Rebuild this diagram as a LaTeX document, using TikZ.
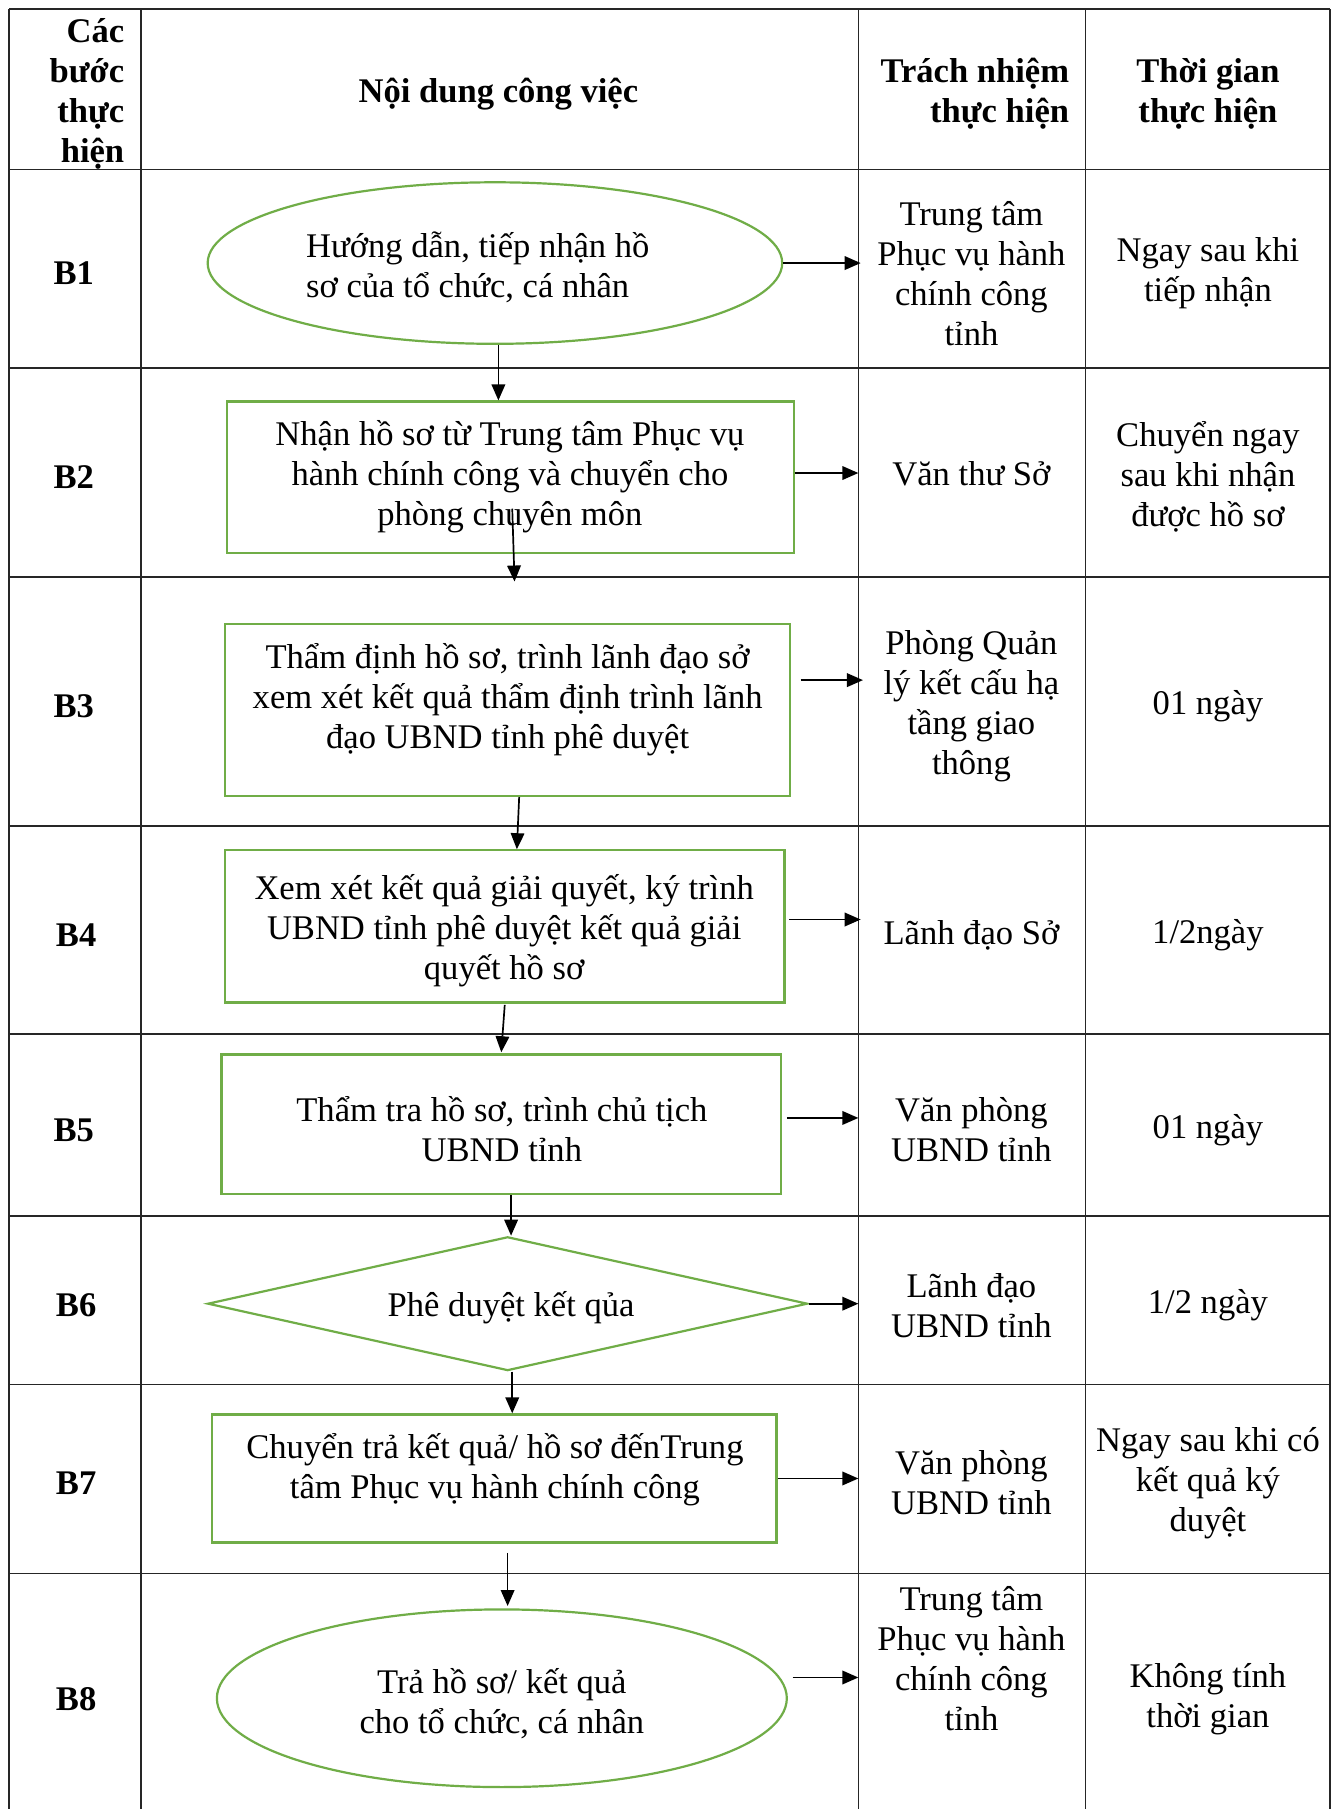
\documentclass[tikz,border=0pt]{standalone}
\usepackage{fontspec}
\setmainfont{Liberation Serif}
\usetikzlibrary{shapes.geometric,arrows.meta,calc}
\definecolor{boxgreen}{RGB}{112,173,71}
\begin{document}
\begin{tikzpicture}[x=0.5773pt,y=-0.5773pt,
  txt/.style={inner sep=0pt, align=center, yshift=-1.4pt, font={\fontsize{17.3pt}{20pt}\selectfont}},
  hdr/.style={inner sep=0pt, align=center, yshift=-1.4pt, font={\fontsize{17.3pt}{20pt}\selectfont\bfseries}},
  gridline/.style={draw=black!85, line width=0.8pt},
  sz/.style 2 args={minimum width=#1*0.5773pt, minimum height=#2*0.5773pt},
  gbox/.style={draw=boxgreen, line width=1.1pt, rectangle, inner sep=0pt},
  gell/.style={draw=boxgreen, line width=1.1pt, ellipse, inner sep=0pt},
  gdia/.style={draw=boxgreen, line width=1.1pt, diamond, inner sep=0pt},
  arr/.style={draw=black, line width=0.85pt, -{Triangle[length=8pt,width=6.8pt]}},
]
\fill[white] (0,0) rectangle (1156,1568);
\useasboundingbox (0,0) rectangle (1156,1568);

% table grid
\foreach \yy in {8,147,319,500,716,896,1054,1200,1364}
  \draw[gridline] (8,\yy) -- (1153,\yy);
\foreach \xx in {8,122,744,941,1153}
  \draw[gridline] (\xx,8) -- (\xx,1568);

% header
\node[hdr, align=right, anchor=east] (h1) at (108,79) {Các\\bước\\thực\\hiện};
\node[hdr] (h2) at (432,79) {Nội dung công việc};
\node[hdr, align=right, anchor=east] (h3) at (927,79) {Trách nhiệm\\thực hiện};
\node[hdr] (h4) at (1047,79) {Thời gian\\thực hiện};

% step labels
\node[hdr] (b1) at (64,234) {B1};
\node[hdr] (b2) at (64,411) {B2};
\node[hdr] (b3) at (64,610) {B3};
\node[hdr] (b4) at (66,808) {B4};
\node[hdr] (b5) at (64,977) {B5};
\node[hdr] (b6) at (66,1129) {B6};
\node[hdr] (b7) at (66,1283) {B7};
\node[hdr] (b8) at (66,1470) {B8};

% shapes
\node[gell, sz={498}{140}] (s1) at (429,228) {};
\node[gbox, sz={491}{131}] (s2) at (442.5,413.5) {};
\node[gbox, sz={490}{149}] (s3) at (440,615.5) {};
\node[gbox, sz={485}{132}] (s4) at (437.5,803) {};
\node[gbox, sz={485}{121}] (s5) at (434.5,974.5) {};
\node[gdia, sz={520}{116}] (s6) at (440,1130) {};
\node[gbox, sz={489}{111}] (s7) at (428.5,1281.5) {};
\node[gell, sz={494}{154}] (s8) at (435,1472) {};

% shape texts
\node[txt, align=left, anchor=west] (t1) at (265,229.5) {Hướng dẫn, tiếp nhận hồ\\sơ của tổ chức, cá nhân};
\node[txt] (t2) at (442,410.5) {Nhận hồ sơ từ Trung tâm Phục vụ\\hành chính công và chuyển cho\\phòng chuyên môn};
\node[txt] (t3) at (440,604) {Thẩm định hồ sơ, trình lãnh đạo sở\\xem xét kết quả thẩm định trình lãnh\\đạo UBND tỉnh phê duyệt};
\node[txt] (t4) at (437,804) {Xem xét kết quả giải quyết, ký trình\\UBND tỉnh phê duyệt kết quả giải\\quyết hồ sơ};
\node[txt] (t5) at (435,976.5) {Thẩm tra hồ sơ, trình chủ tịch\\UBND tỉnh};
\node[txt] (t6) at (443,1131) {Phê duyệt kết qủa};
\node[txt] (t7) at (429,1271.5) {Chuyển trả kết quả/ hồ sơ đếnTrung\\tâm Phục vụ hành chính công};
\node[txt] (t8) at (435,1474) {Trả hồ sơ/ kết quả\\cho tổ chức, cá nhân};

% responsibility column
\node[txt] (r1) at (842,234.5) {Trung tâm\\Phục vụ hành\\chính công\\tỉnh};
\node[txt] (r2) at (842,408) {Văn thư Sở};
\node[txt] (r3) at (842,610) {Phòng Quản\\lý kết cấu hạ\\tầng giao\\thông};
\node[txt] (r4) at (842,808) {Lãnh đạo Sở};
\node[txt] (r5) at (842,976.5) {Văn phòng\\UBND tỉnh};
\node[txt] (r6) at (842,1129) {Lãnh đạo\\UBND tỉnh};
\node[txt] (r7) at (842,1283) {Văn phòng\\UBND tỉnh};
\node[txt] (r8) at (842,1435) {Trung tâm\\Phục vụ hành\\chính công\\tỉnh};

% time column
\node[txt] (m1) at (1047,234.5) {Ngay sau khi\\tiếp nhận};
\node[txt] (m2) at (1047,411) {Chuyển ngay\\sau khi nhận\\được hồ sơ};
\node[txt] (m3) at (1047,610) {01 ngày};
\node[txt] (m4) at (1047,808) {1/2ngày};
\node[txt] (m5) at (1047,977) {01 ngày};
\node[txt] (m6) at (1047,1129) {1/2 ngày};
\node[txt] (m7) at (1047,1283.5) {Ngay sau khi có\\kết quả ký\\duyệt};
\node[txt] (m8) at (1047,1470.5) {Không tính\\thời gian};

% column boundary for right arrows
\coordinate (colC) at (746,0);

% right arrows
\draw[arr] (s1.east) -- (s1.east -| colC);
\draw[arr] ($(s2.east)+(0,-3.5)$) -- ($(s2.east -| colC)+(-2,-3.5)$);
\draw[arr] ($(s3.east)+(8,-26)$) -- ($(s3.east -| colC)+(2,-26)$);
\draw[arr] ($(s4.east)+(3,-6)$) -- ($(s4.east -| colC)+(0,-6)$);
\draw[arr] ($(s5.east)+(4,-5.5)$) -- ($(s5.east -| colC)+(-2,-5.5)$);
\draw[arr] (s6.east) -- ($(s6.east -| colC)+(-2,0)$);
\draw[arr] (s7.east) -- ($(s7.east -| colC)+(-2,0)$);
\draw[arr] ($(s8.east)+(4,-18)$) -- ($(s8.east -| colC)+(-2,-18)$);

% down arrows
\draw[arr] ($(s1.south)+(3,0)$) -- ($(s1.south |- s2.north)+(3,0)$);
\draw[arr] ($(s2.south)+(1.5,-39)$) -- ($(s3.north)+(6,-36)$);
\draw[arr] ($(s3.south)+(10,0)$) -- ($(s4.north)+(10.5,0)$);
\draw[arr] ($(s4.south)+(0,1)$) -- ($(s5.north)+(0,-1)$);
\draw[arr] ($(s5.south)+(8.5,0)$) -- ($(s6.north)+(3,0)$);
\draw[arr] ($(s6.south)+(4,0)$) -- ($(s7.north)+(15.5,0)$);
\draw[arr] ($(s7.south)+(11.5,8)$) -- ($(s8.north)+(5,-2)$);
\end{tikzpicture}
\end{document}
